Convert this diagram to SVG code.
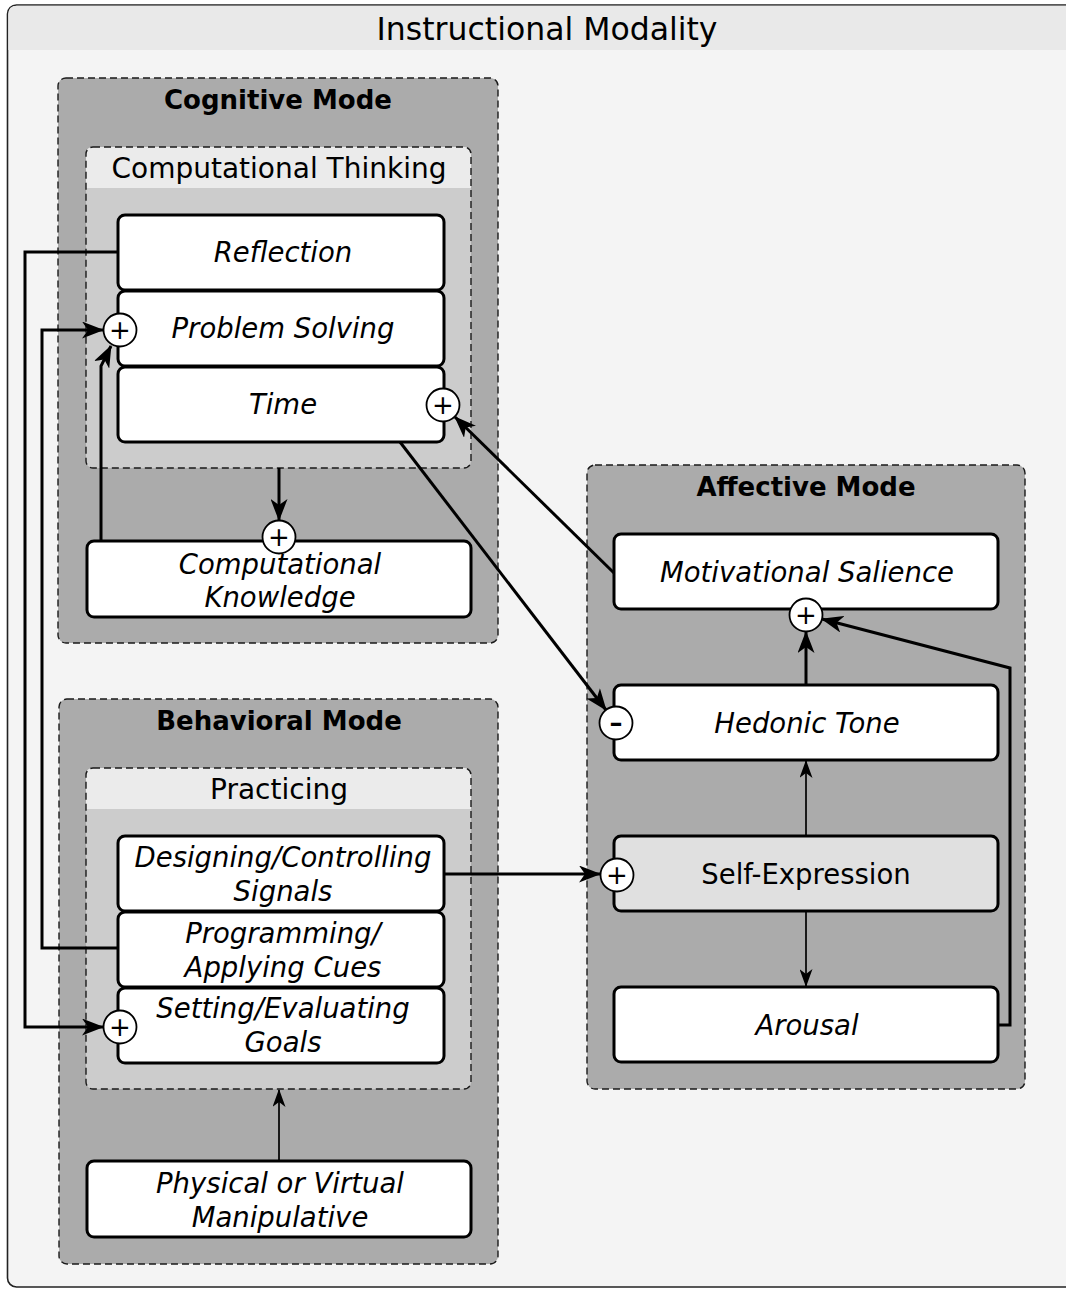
<svg xmlns="http://www.w3.org/2000/svg" width="1066" height="1289" viewBox="0 0 1066 1289">
  <style>
    text { font-family: "DejaVu Sans", "Liberation Sans", sans-serif; fill: #000; text-anchor: middle; }
    .frame { fill: #f4f4f4; stroke: #222; stroke-width: 1.6; }
    .frame-head { fill: #e9e9e9; }
    .title { font-size: 31.5px; }
    .mode { fill: #ababab; stroke: #1a1a1a; stroke-width: 1.4; stroke-dasharray: 7 4; }
    .mode-title { font-size: 26px; font-weight: bold; }
    .sub { fill: #cccccc; }
    .sub-head { fill: #ebebeb; }
    .sub-border { fill: none; stroke: #1a1a1a; stroke-width: 1.4; stroke-dasharray: 7 4; }
    .sub-title { font-size: 28px; }
    .node { fill: #fff; stroke: #000; stroke-width: 3; }
    .node-grey { fill: #e0e0e0; stroke: #000; stroke-width: 3; }
    .label { font-size: 27.5px; font-style: italic; }
    .label-plain { font-size: 27.5px; }
    .port { fill: #fff; stroke: #000; stroke-width: 1.8; }
    .sign { font-size: 26px; }
    .sign-minus { font-size: 26px; font-weight: bold; }
    .edge { fill: none; stroke: #000; stroke-width: 3; marker-end: url(#head); }
    .edge-thin { fill: none; stroke: #000; stroke-width: 1.7; marker-end: url(#head-thin); }
  </style>
  <defs>
    <marker id="head" viewBox="0 0 22 17" refX="21" refY="8.5" markerWidth="22" markerHeight="17" orient="auto" markerUnits="userSpaceOnUse">
      <path d="M0,0 L22,8.5 L0,17 L6,8.5 Z" fill="#000"/>
    </marker>
    <marker id="head-thin" viewBox="0 0 18 13" refX="17" refY="6.5" markerWidth="18" markerHeight="13" orient="auto" markerUnits="userSpaceOnUse">
      <path d="M0,0 L18,6.5 L0,13 L5,6.5 Z" fill="#000"/>
    </marker>
  </defs>

  <!-- outer frame -->
  <g id="instructional-modality">
    <rect class="frame" x="7.5" y="5" width="1080" height="1282" rx="9"/>
    <path class="frame-head" d="M8.3,50 V14 Q8.3,5.8 17,5.8 H1066 V50 Z"/>
    <text class="title" x="547" y="40">Instructional Modality</text>
  </g>

  <!-- mode containers -->
  <g id="cognitive-mode">
    <rect class="mode" x="58" y="78" width="440" height="565" rx="8"/>
    <text class="mode-title" x="278" y="109">Cognitive Mode</text>
  </g>
  <g id="computational-thinking">
    <rect class="sub" x="86" y="147" width="385" height="321" rx="7"/>
    <path class="sub-head" d="M86,188 V154 Q86,147 93,147 H464 Q471,147 471,154 V188 Z"/>
    <rect class="sub-border" x="86" y="147" width="385" height="321" rx="7"/>
    <text class="sub-title" x="279" y="178">Computational Thinking</text>
  </g>

  <g id="behavioral-mode">
    <rect class="mode" x="59" y="699" width="439" height="565" rx="8"/>
    <text class="mode-title" x="279" y="730">Behavioral Mode</text>
  </g>
  <g id="practicing">
    <rect class="sub" x="86" y="768" width="385" height="321" rx="7"/>
    <path class="sub-head" d="M86,809 V775 Q86,768 93,768 H464 Q471,768 471,775 V809 Z"/>
    <rect class="sub-border" x="86" y="768" width="385" height="321" rx="7"/>
    <text class="sub-title" x="279" y="799">Practicing</text>
  </g>

  <g id="affective-mode">
    <rect class="mode" x="587" y="465" width="438" height="624" rx="8"/>
    <text class="mode-title" x="806" y="496">Affective Mode</text>
  </g>

  <!-- connectors -->
  <g id="connectors">
    <path class="edge" d="M118,252 H25 V1027 H103"/>
    <path class="edge" d="M118,948 H42 V330 H103"/>
    <path class="edge" d="M101,541 V366 L111,346"/>
    <path class="edge" d="M279,468 V520"/>
    <path class="edge" d="M614,573 L455,417"/>
    <path class="edge" d="M400,442 L606,710"/>
    <path class="edge" d="M444,874 H600"/>
    <path class="edge" d="M806,685 V632"/>
    <path class="edge" d="M998,1025 H1010 V668 L822,619"/>
    <path class="edge-thin" d="M806,836 V761"/>
    <path class="edge-thin" d="M806,912 V986"/>
    <path class="edge-thin" d="M279,1161 V1090"/>
  </g>

  <!-- cognitive nodes -->
  <g id="reflection">
    <rect class="node" x="118" y="215" width="326" height="75" rx="7"/>
    <text class="label" x="283" y="262">Reflection</text>
  </g>
  <g id="problem-solving">
    <rect class="node" x="118" y="291" width="326" height="75" rx="7"/>
    <text class="label" x="283" y="338">Problem Solving</text>
    <circle class="port" cx="120" cy="330" r="16.5"/>
    <text class="sign" x="120" y="339">+</text>
  </g>
  <g id="time">
    <rect class="node" x="118" y="367" width="326" height="75" rx="7"/>
    <text class="label" x="283" y="414">Time</text>
    <circle class="port" cx="443" cy="405" r="16.5"/>
    <text class="sign" x="443" y="414">+</text>
  </g>
  <g id="computational-knowledge">
    <rect class="node" x="87" y="541" width="384" height="76" rx="7"/>
    <text class="label" x="280" y="574">Computational</text>
    <text class="label" x="280" y="607">Knowledge</text>
    <circle class="port" cx="279" cy="537" r="16.5"/>
    <text class="sign" x="279" y="546">+</text>
  </g>

  <!-- behavioral nodes -->
  <g id="designing-controlling-signals">
    <rect class="node" x="118" y="836" width="326" height="75" rx="7"/>
    <text class="label" x="283" y="867">Designing/Controlling</text>
    <text class="label" x="283" y="901">Signals</text>
  </g>
  <g id="programming-applying-cues">
    <rect class="node" x="118" y="912" width="326" height="75" rx="7"/>
    <text class="label" x="283" y="943">Programming/</text>
    <text class="label" x="283" y="977">Applying Cues</text>
  </g>
  <g id="setting-evaluating-goals">
    <rect class="node" x="118" y="988" width="326" height="75" rx="7"/>
    <text class="label" x="283" y="1018">Setting/Evaluating</text>
    <text class="label" x="283" y="1052">Goals</text>
    <circle class="port" cx="120" cy="1027" r="16.5"/>
    <text class="sign" x="120" y="1036">+</text>
  </g>
  <g id="physical-virtual-manipulative">
    <rect class="node" x="87" y="1161" width="384" height="76" rx="7"/>
    <text class="label" x="280" y="1193">Physical or Virtual</text>
    <text class="label" x="280" y="1227">Manipulative</text>
  </g>

  <!-- affective nodes -->
  <g id="motivational-salience">
    <rect class="node" x="614" y="534" width="384" height="75" rx="7"/>
    <text class="label" x="807" y="582">Motivational Salience</text>
    <circle class="port" cx="806" cy="615" r="16.5"/>
    <text class="sign" x="806" y="624">+</text>
  </g>
  <g id="hedonic-tone">
    <rect class="node" x="614" y="685" width="384" height="75" rx="7"/>
    <text class="label" x="807" y="733">Hedonic Tone</text>
    <circle class="port" cx="616" cy="723" r="16.5"/>
    <text class="sign-minus" x="616" y="732">–</text>
  </g>
  <g id="self-expression">
    <rect class="node-grey" x="614" y="836" width="384" height="75" rx="7"/>
    <text class="label-plain" x="806" y="884">Self-Expression</text>
    <circle class="port" cx="617" cy="875" r="16.5"/>
    <text class="sign" x="617" y="884">+</text>
  </g>
  <g id="arousal">
    <rect class="node" x="614" y="987" width="384" height="75" rx="7"/>
    <text class="label" x="807" y="1035">Arousal</text>
  </g>
</svg>
